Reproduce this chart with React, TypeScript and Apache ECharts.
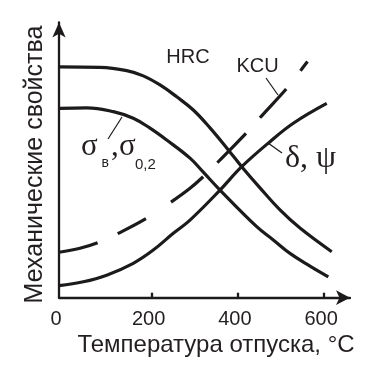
import React, { useEffect, useRef } from 'react';
import * as echarts from 'echarts';

// Temperature (°C) and relative property level (0..100)
const hrcTemp = [-15, 80, 142, 180.5, 219.3, 258, 296.5, 335.3, 377.7, 408.8, 451.2, 497.6, 544, 617.6];
const hrcVal = [83.9, 83.7, 82.5, 80.6, 77.3, 73.0, 68.2, 61.7, 53.7, 47.6, 39.9, 31.9, 25.3, 16.7];

const sigmaTemp = [-15, 49.3, 111, 157.3, 196.1, 234.8, 288.9, 319.7, 358.5, 443.6, 482.1, 520.8, 567.2, 609.7];
const sigmaVal = [68.8, 69.0, 67.6, 65.2, 61.6, 57.3, 50.7, 45.6, 39.1, 25.8, 21.0, 16.1, 11.5, 7.6];

const deltaTemp = [-15, 41.4, 95.6, 157.3, 203.7, 250.1, 288.9, 358.5, 408.8, 474.4, 528.5, 606];
const deltaVal = [4.4, 5.8, 8.2, 12.5, 17.3, 23.4, 28.2, 39.1, 47.6, 56.7, 63.4, 70.6];

const kcuTemp = [-15, 33.7, 80.1, 122.6, 188.4, 246.4, 288.9, 319.7, 354.5, 420.4, 454.7, 516.9, 546.3, 561.4];
const kcuVal = [16.5, 17.95, 20.3, 23.4, 28.9, 34.9, 39.75, 44.0, 49.4, 60.0, 66.0, 76.7, 82.7, 85.8];

const xMin = -15;
const xMax = 660;
const tickValues = [200, 400, 600];
const tickLabelValues = [xMin, 200, 400, 600];
const tickLabelTexts = ['0', '200', '400', '600'];

const INK = '#1c1a1b';
const TXT = '#231f20';
const SANS = '"Liberation Sans", Arial, sans-serif';
const SERIF = '"Liberation Serif", "Times New Roman", serif';

const zip = (a: number[], b: number[]) => a.map((t, i) => [t, b[i]]);

export default function App() {
  const ref = useRef<HTMLDivElement>(null);
  useEffect(() => {
    const chart = echarts.init(ref.current!, null, { renderer: 'svg' });
    const lineBase = { type: 'line', smooth: 0.4, showSymbol: false, silent: true };
    chart.setOption({
      animation: false,
      textStyle: { fontFamily: SANS },
      grid: { left: 59, right: 39, top: 22.5, bottom: 81.3, containLabel: false, outerBoundsMode: 'none' },
      xAxis: {
        type: 'value',
        min: xMin,
        max: xMax,
        axisLine: { show: true, onZero: false, symbol: ['none', 'arrow'], symbolSize: [11, 14], lineStyle: { color: INK, width: 2.3 } },
        axisTick: { show: true, inside: true, length: 5, customValues: tickValues, lineStyle: { color: INK, width: 2.3 } },
        axisLabel: {
          customValues: tickLabelValues,
          formatter: (v: number) => tickLabelTexts[tickLabelValues.indexOf(v)] ?? String(v),
          fontSize: 20,
          fontFamily: SANS,
          color: TXT,
          margin: 10,
          padding: [0, 6, 0, 0],
        },
        splitLine: { show: false },
      },
      yAxis: {
        type: 'value',
        min: 0,
        max: 100,
        axisLine: { show: true, onZero: false, symbol: ['none', 'arrow'], symbolSize: [10, 15], lineStyle: { color: INK, width: 2.3 } },
        axisTick: { show: false },
        axisLabel: { show: false },
        splitLine: { show: false },
      },
      series: [
        { ...lineBase, name: 'HRC', data: zip(hrcTemp, hrcVal), lineStyle: { color: INK, width: 3.2 } },
        { ...lineBase, name: 'sigma', data: zip(sigmaTemp, sigmaVal), lineStyle: { color: INK, width: 3.2 } },
        { ...lineBase, name: 'delta', data: zip(deltaTemp, deltaVal), lineStyle: { color: INK, width: 3.2 } },
        {
          ...lineBase,
          name: 'KCU',
          data: zip(kcuTemp, kcuVal),
          lineStyle: { color: INK, width: 3.2, type: [40, 22, 32, 30, 41, 20, 41, 21, 39, 23, 20], cap: 'butt' },
        },
      ],
      graphic: [
        { type: 'text', x: 188, y: 55.7, style: { text: 'HRC', font: `20px ${SANS}`, fill: TXT, align: 'center', verticalAlign: 'middle' } },
        { type: 'text', x: 257.5, y: 64.8, style: { text: 'KCU', font: `20px ${SANS}`, fill: TXT, align: 'center', verticalAlign: 'middle' } },
        { type: 'line', shape: { x1: 266, y1: 78, x2: 278, y2: 95 }, style: { stroke: INK, lineWidth: 1.2 } },
        { type: 'line', shape: { x1: 108, y1: 139, x2: 122, y2: 117 }, style: { stroke: INK, lineWidth: 1.2 } },
        { type: 'line', shape: { x1: 268, y1: 143, x2: 282, y2: 153 }, style: { stroke: INK, lineWidth: 1.2 } },
        { type: 'text', x: 81, y: 144.5, style: { text: 'σ', font: `31px ${SERIF}`, fill: TXT, align: 'left', verticalAlign: 'middle' } },
        { type: 'text', x: 101.5, y: 161.8, style: { text: 'в', font: `14px ${SANS}`, fill: TXT, align: 'left', verticalAlign: 'middle' } },
        { type: 'text', x: 111, y: 144.5, style: { text: ',', font: `31px ${SERIF}`, fill: TXT, align: 'left', verticalAlign: 'middle' } },
        { type: 'text', x: 119, y: 144.5, style: { text: 'σ', font: `31px ${SERIF}`, fill: TXT, align: 'left', verticalAlign: 'middle' } },
        { type: 'text', x: 135, y: 163.8, style: { text: '0,2', font: `15px ${SANS}`, fill: TXT, align: 'left', verticalAlign: 'middle' } },
        { type: 'text', x: 285, y: 155.9, style: { text: 'δ, ψ', font: `32px ${SERIF}`, fill: TXT, align: 'left', verticalAlign: 'middle' } },
        { type: 'text', x: 216, y: 343.2, style: { text: 'Температура отпуска, °C', font: `24px ${SANS}`, fill: TXT, align: 'center', verticalAlign: 'middle' } },
        {
          type: 'text',
          x: 32.5,
          y: 164.5,
          rotation: Math.PI / 2,
          style: { text: 'Механические свойства', font: `25px ${SANS}`, fill: TXT, align: 'center', verticalAlign: 'middle' },
        },
      ],
    });
    return () => chart.dispose();
  }, []);
  return <div ref={ref} style={{ position: 'fixed', left: 0, top: 0, width: 389, height: 379 }} />;
}
